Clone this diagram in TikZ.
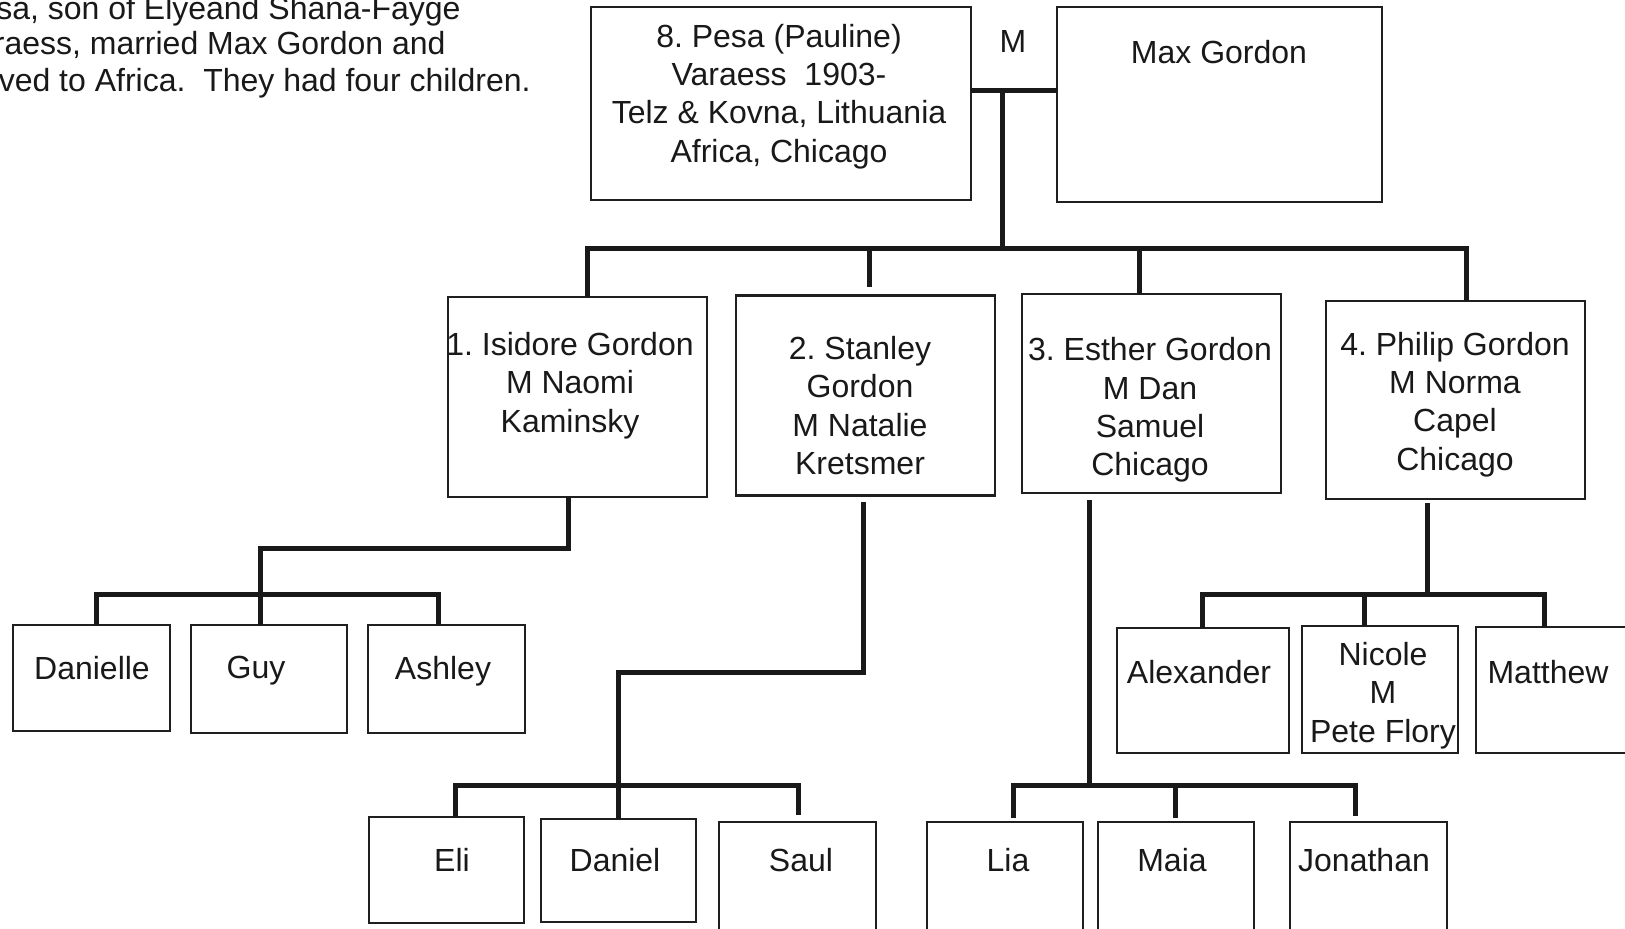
\documentclass[tikz,border=0pt]{standalone}
\usepackage{fontspec}
\setmainfont{Liberation Sans}
\frenchspacing
\newcommand\famBox[5]{\node[box,minimum width=#4*0.5pt,minimum height=#5*0.5pt] (#1) at (#2,#3) {};}
\begin{document}
\begin{tikzpicture}[x=0.5pt,y=-0.5pt,
  box/.style={draw=black!88,line width=1.25pt,inner sep=0pt,outer sep=0pt},
  txt/.style={inner sep=0pt,align=center,font=\fontsize{16}{19.2}\selectfont\frenchspacing,text=black!90},
  conn/.style={draw=black!90,line width=2.5pt}]
\useasboundingbox (0,0) rectangle (1625,928);
\clip (0,0) rectangle (1625,928);
\fill[white] (0,0) rectangle (1625,928);

% intro text (cut at the left edge, as in the original)
\node[txt,anchor=east] (t1) at (461,11) {sa, son of Elyeand Shana-Fayge};
\node[txt,anchor=east] (t2) at (446,44.5) {raess, married Max Gordon and};
\node[txt,anchor=east] (t3) at (531,83.5) {oved to Africa.\ \ They had four children.};

% generation 1
\famBox{P}{781}{103.5}{380}{193}
\famBox{Max}{1219.5}{104.5}{325}{195}
\node[txt] (Pt) at (779,96.5) {8. Pesa (Pauline)\\Varaess\ \ 1903-\\Telz \& Kovna, Lithuania\\Africa, Chicago};
\node[txt] (Mt) at (1219,52) {Max Gordon};
\node[txt] (Ml) at (1013,41.5) {M};

% generation 2
\famBox{C1}{577.5}{397}{259}{200}
\famBox{C2}{865.5}{395.5}{259}{200}
\famBox{C3}{1151.5}{393.5}{259}{199}
\famBox{C4}{1455.5}{400}{259}{198}
\node[txt] (C1t) at (570,385.5) {1. Isidore Gordon\\M Naomi\\Kaminsky};
\node[txt] (C2t) at (860,405.5) {2. Stanley\\Gordon\\M Natalie\\Kretsmer};
\node[txt] (C3t) at (1150,410) {3. Esther Gordon\\M Dan\\Samuel\\Chicago};
\node[txt] (C4t) at (1455,404.5) {4. Philip Gordon\\M Norma\\Capel\\Chicago};

% generation 3
\famBox{G1}{91.5}{678}{157}{106}
\famBox{G2}{269}{679}{156}{108}
\famBox{G3}{446.5}{679}{157}{108}
\famBox{G4}{446.5}{870}{155}{106}
\famBox{G5}{618.5}{870.5}{155}{103}
\famBox{G6}{797.5}{877}{157}{110}
\famBox{G7}{1005}{877}{156}{110}
\famBox{G8}{1176}{878}{156}{112}
\famBox{G9}{1368.5}{878}{157}{112}
\famBox{G10}{1203}{690.5}{172}{125}
\famBox{G11}{1380}{689.5}{156}{127}
\famBox{G12}{1558}{690}{164}{126}
\node[txt] (G1t) at (92,668) {Danielle};
\node[txt] (G2t) at (256,671) {Guy};
\node[txt] (G3t) at (443,671) {Ashley};
\node[txt] (G4t) at (452,860) {Eli};
\node[txt] (G5t) at (615,860) {Daniel};
\node[txt] (G6t) at (801,860) {Saul};
\node[txt] (G7t) at (1008,860) {Lia};
\node[txt] (G8t) at (1172,860) {Maia};
\node[txt] (G9t) at (1364,860) {Jonathan};
\node[txt] (G10t) at (1199,672) {Alexander};
\node[txt] (G11t) at (1383,695.5) {Nicole\\M\\Pete Flory};
\node[txt] (G12t) at (1548,672) {Matthew};

% marriage and children of Pesa
\coordinate (mj) at (1002,90);
\coordinate (bar) at (1002,248);
\coordinate (barL) at (587,248);
\coordinate (barR) at (1466,248);
\coordinate (d2) at (869,248);
\coordinate (d3) at (1139,248);
\draw[conn] (P.east |- mj) -- (Max.west |- mj);
\draw[conn] (mj) -- (bar);
\draw[conn] (barL |- C1.north) -- (barL) -- (barR) -- (barR |- C4.north);
\draw[conn] (d2) -- (869,287);
\draw[conn] (d3) -- (d3 |- C3.north);

% children of Isidore
\coordinate (a1) at (568,548);
\coordinate (a2) at (260,548);
\coordinate (a3) at (96,594);
\coordinate (a4) at (438,594);
\draw[conn] (a1 |- C1.south) -- (a1) -- (a2) -- (a2 |- G2.north);
\draw[conn] (a3 |- G1.north) -- (a3) -- (a4) -- (a4 |- G3.north);

% children of Stanley
\coordinate (b0) at (863,502);
\coordinate (b1) at (863,672);
\coordinate (b2) at (618,672);
\coordinate (b3) at (455,785);
\coordinate (b4) at (798,785);
\draw[conn] (b0) -- (b1) -- (b2) -- (b2 |- G5.north);
\draw[conn] (b3 |- G4.north) -- (b3) -- (b4) -- (798,815);

% children of Esther
\coordinate (c0) at (1089,500);
\coordinate (c1) at (1089,785);
\coordinate (c2) at (1013,785);
\coordinate (c3) at (1355,785);
\coordinate (c4) at (1175,785);
\draw[conn] (c0) -- (c1);
\draw[conn] (1013,818) -- (c2) -- (c3) -- (1355,816);
\draw[conn] (c4) -- (1175,818);

% children of Philip
\coordinate (e0) at (1427,503);
\coordinate (e1) at (1427,594);
\coordinate (e2) at (1202,594);
\coordinate (e3) at (1544,594);
\coordinate (e4) at (1364,594);
\draw[conn] (e0) -- (e1);
\draw[conn] (e2 |- G10.north) -- (e2) -- (e3) -- (e3 |- G12.north);
\draw[conn] (e4) -- (e4 |- G11.north);
\end{tikzpicture}
\end{document}
